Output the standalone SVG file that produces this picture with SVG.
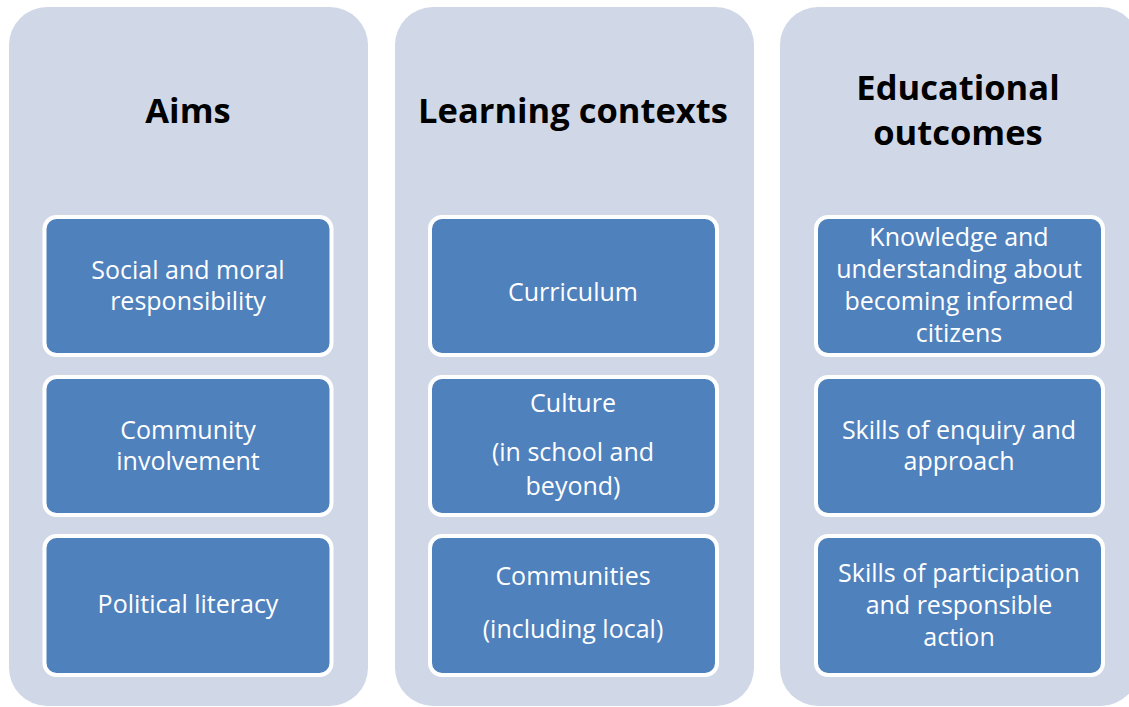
<svg xmlns="http://www.w3.org/2000/svg" width="1129" height="707" viewBox="0 0 1129 707">
<style>
.panel{fill:#D0D8E8}
.box{fill:#4F81BD;stroke:#FFFFFF;stroke-width:4}
.title{font-family:"Open Sans","Noto Sans",sans-serif;font-weight:bold;font-size:34.5px;fill:#000;text-anchor:middle}
.lbl{font-family:"Open Sans","Noto Sans",sans-serif;font-size:25px;fill:#FFFFFF;text-anchor:middle}
</style>
<rect width="1129" height="707" fill="#FFFFFF"/>
<g id="col-aims">
<rect class="panel" x="9" y="7" width="359" height="699" rx="38"/>
<text class="title" x="188" y="123">Aims</text>
</g>
<g id="col-contexts">
<rect class="panel" x="395" y="7" width="359" height="699" rx="38"/>
<text class="title" x="573" y="123">Learning contexts</text>
</g>
<g id="col-outcomes">
<rect class="panel" x="780" y="7" width="359" height="699" rx="38"/>
<text class="title" x="958" y="100">Educational</text>
<text class="title" x="958" y="145">outcomes</text>
</g>
<g id="aim-1">
<rect class="box" x="44.5" y="217" width="287" height="138" rx="12"/>
<text class="lbl" x="188" y="279">Social and moral</text>
<text class="lbl" x="188" y="310">responsibility</text>
</g>
<g id="aim-2">
<rect class="box" x="44.5" y="377" width="287" height="138" rx="12"/>
<text class="lbl" x="188" y="439">Community</text>
<text class="lbl" x="188" y="470">involvement</text>
</g>
<g id="aim-3">
<rect class="box" x="44.5" y="536" width="287" height="139" rx="12"/>
<text class="lbl" x="188" y="613">Political literacy</text>
</g>
<g id="ctx-1">
<rect class="box" x="430" y="217" width="287" height="138" rx="12"/>
<text class="lbl" x="573" y="301">Curriculum</text>
</g>
<g id="ctx-2">
<rect class="box" x="430" y="377" width="287" height="138" rx="12"/>
<text class="lbl" x="573" y="412">Culture</text>
<text class="lbl" x="573" y="461">(in school and</text>
<text class="lbl" x="573" y="495">beyond)</text>
</g>
<g id="ctx-3">
<rect class="box" x="430" y="536" width="287" height="139" rx="12"/>
<text class="lbl" x="573" y="585">Communities</text>
<text class="lbl" x="573" y="638">(including local)</text>
</g>
<g id="out-1">
<rect class="box" x="816" y="217" width="287" height="138" rx="12"/>
<text class="lbl" x="959" y="246">Knowledge and</text>
<text class="lbl" x="959" y="278">understanding about</text>
<text class="lbl" x="959" y="310">becoming informed</text>
<text class="lbl" x="959" y="342">citizens</text>
</g>
<g id="out-2">
<rect class="box" x="816" y="377" width="287" height="138" rx="12"/>
<text class="lbl" x="959" y="439">Skills of enquiry and</text>
<text class="lbl" x="959" y="470">approach</text>
</g>
<g id="out-3">
<rect class="box" x="816" y="536" width="287" height="139" rx="12"/>
<text class="lbl" x="959" y="582">Skills of participation</text>
<text class="lbl" x="959" y="614">and responsible</text>
<text class="lbl" x="959" y="646">action</text>
</g>
<g id="connectors"></g>
</svg>
